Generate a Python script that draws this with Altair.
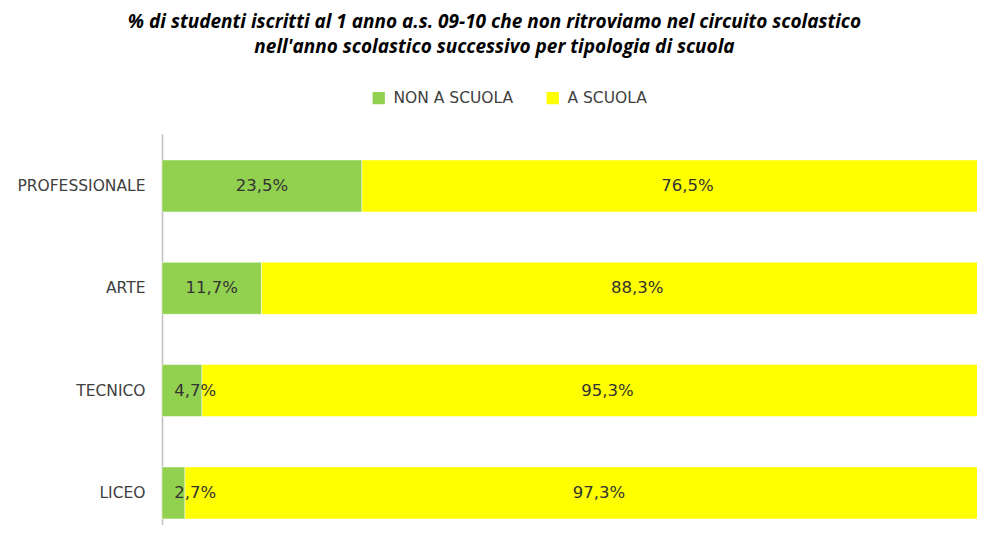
import altair as alt
import pandas as pd

categories = ["PROFESSIONALE", "ARTE", "TECNICO", "LICEO"]
non_a_scuola = [23.5, 11.7, 4.7, 2.7]
a_scuola = [76.5, 88.3, 95.3, 97.3]
series = ["NON A SCUOLA", "A SCUOLA"]
colors = ["#92D050", "#FFFF00"]

rows = []
for c, n, a in zip(categories, non_a_scuola, a_scuola):
    rows.append({"cat": c, "serie": series[0], "start": 0.0, "end": n, "val": n, "ord": 0})
    rows.append({"cat": c, "serie": series[1], "start": n, "end": n + a, "val": a, "ord": 1})
df = pd.DataFrame(rows)
df["mid"] = (df["start"] + df["end"]) / 2
df["label"] = df["val"].map(lambda v: f"{v:.1f}".replace(".", ",") + "%")

xscale = alt.Scale(domain=[0, 95.77], nice=False, zero=True)
yscale = alt.Scale(domain=categories, paddingInner=0.492, paddingOuter=0.1565, align=0.81)

base = alt.Chart(df)

bars = base.mark_bar(clip=True, stroke="white", strokeWidth=0.5).encode(
    y=alt.Y("cat:N", scale=yscale, sort=categories,
            axis=alt.Axis(title=None, ticks=False, domain=True, domainColor="#BFBFBF",
                          domainWidth=1.5, labelFont="DejaVu Sans", labelFontSize=15.5,
                          labelColor="#404040", labelPadding=17, minExtent=149,
                          maxExtent=149, labelLimit=200)),
    x=alt.X("start:Q", scale=xscale, axis=None),
    x2="end:Q",
    color=alt.Color("serie:N", scale=alt.Scale(domain=series, range=colors),
                    legend=alt.Legend(title=None, orient="none", direction="horizontal",
                                      legendX=209, legendY=-44,
                                      symbolType="square", symbolSize=150,
                                      symbolStrokeWidth=0, labelFont="DejaVu Sans",
                                      labelFontSize=15.5, labelColor="#404040",
                                      columnPadding=31, labelOffset=7)),
    order="ord:Q",
)

texts = base.transform_calculate(
    xpos="max(datum.mid, 3.9)"
).mark_text(font="DejaVu Sans", fontSize=16.5, color="#333333").encode(
    y=alt.Y("cat:N", scale=yscale, sort=categories),
    x=alt.X("xpos:Q", scale=xscale),
    text="label:N",
)

chart = (bars + texts).properties(
    width=815,
    height=391,
    padding={"left": 5, "top": 5, "right": 0, "bottom": 0},
    title=alt.TitleParams(
        text=["% di studenti  iscritti al 1 anno a.s. 09-10  che  non ritroviamo  nel circuito scolastico",
              "nell'anno scolastico successivo  per tipologia di scuola"],
        font="Open Sans", fontSize=19, fontStyle="italic", fontWeight="bold", color="#000000",
        anchor="middle", offset=33, lineHeight=25, dx=-75,
    ),
).configure_view(stroke=None)

chart.save("out.html", embed_options={"renderer": "svg", "actions": False})
